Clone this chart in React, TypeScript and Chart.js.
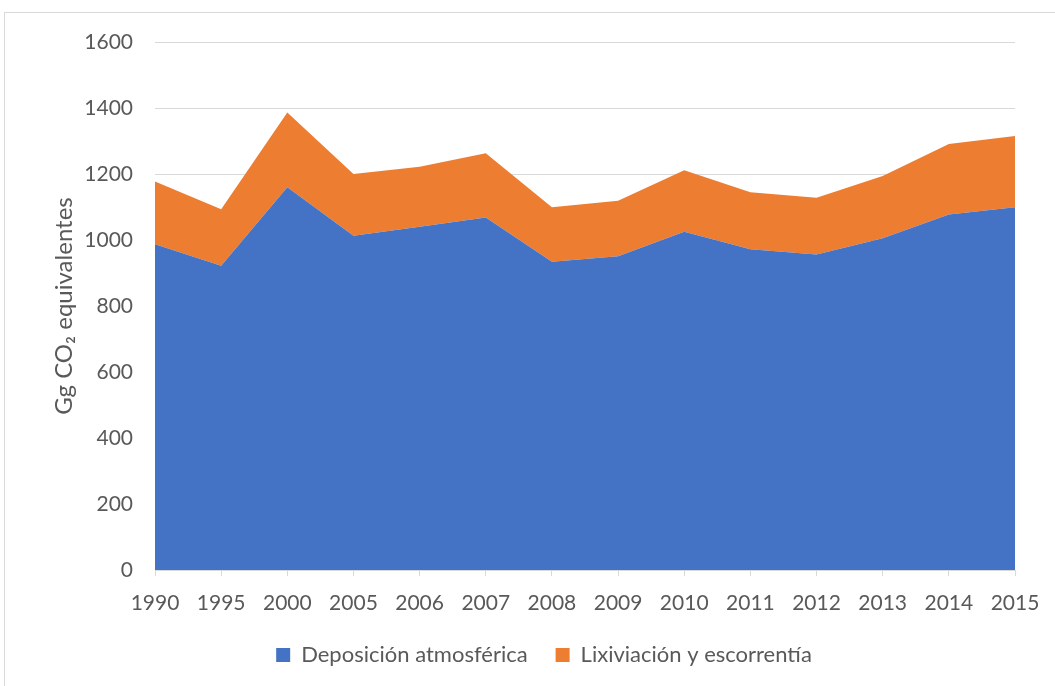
import React, { useEffect, useRef } from "react";
import { Chart, registerables } from "chart.js";

Chart.register(...registerables);

const categories = ["1990", "1995", "2000", "2005", "2006", "2007", "2008", "2009", "2010", "2011", "2012", "2013", "2014", "2015"];
const deposicion = [987, 922, 1160, 1013, 1040, 1068, 934, 951, 1025, 972, 956, 1005, 1077, 1099];
const lixiviacion = [190, 171, 226, 187, 182, 195, 165, 168, 186, 173, 172, 189, 214, 216];
const yTickMin = 0;
const yTickMax = 1600;
const yTickStep = 200;

const FONT = "Lato, 'Open Sans', sans-serif";
const TEXT = "#595959";
const GRID = "#d9d9d9";

export default function App() {
  const ref = useRef<HTMLCanvasElement | null>(null);

  useEffect(() => {
    if (!ref.current) return;
    const chart = new Chart(ref.current, {
      type: "line",
      data: {
        labels: categories,
        datasets: [
          {
            label: "Deposición atmosférica",
            data: deposicion,
            backgroundColor: "#4472C4",
            borderColor: "#4472C4",
            borderWidth: 0,
            pointRadius: 0,
            fill: "origin",
            tension: 0,
          },
          {
            label: "Lixiviación y escorrentía",
            data: lixiviacion,
            backgroundColor: "#ED7D31",
            borderColor: "#ED7D31",
            borderWidth: 0,
            pointRadius: 0,
            fill: "-1",
            tension: 0,
          },
        ],
      },
      options: {
        responsive: false,
        animation: false,
        layout: { padding: { left: 73, right: 40, top: 42, bottom: 44 } },
        plugins: {
          tooltip: { enabled: false },
          legend: {
            position: "bottom",
            labels: {
              boxWidth: 14,
              boxHeight: 14,
              padding: 28,
              color: TEXT,
              font: { family: FONT, size: 22 },
            },
          },
        },
        scales: {
          x: {
            type: "category",
            offset: false,
            stacked: true,
            grid: {
              drawOnChartArea: false,
              drawTicks: true,
              tickLength: 6,
              color: GRID,
            },
            border: { display: true, color: GRID, width: 1 },
            ticks: {
              color: TEXT,
              font: { family: FONT, size: 21 },
              maxRotation: 0,
              autoSkip: false,
              padding: 15,
            },
            afterFit: (scale: any) => {
              scale.height = 46;
            },
          },
          y: {
            stacked: true,
            min: yTickMin,
            max: yTickMax,
            grid: { color: GRID, drawTicks: false, lineWidth: 1 },
            border: { display: false },
            ticks: {
              stepSize: yTickStep,
              color: TEXT,
              font: { family: FONT, size: 21 },
              padding: 22,
              callback: (v: any) => String(v),
            },
            title: {
              display: true,
              text: "Gg CO₂ equivalentes",
              color: TEXT,
              font: { family: FONT, size: 24, weight: "normal" },
              padding: { top: -23, bottom: 0 },
            },
            afterFit: (scale: any) => {
              scale.width = 82;
            },
          },
        },
      },
    });
    return () => chart.destroy();
  }, []);

  return (
    <div
      style={{
        position: "absolute",
        left: 0,
        top: 0,
        width: 1055,
        height: 686,
        overflow: "hidden",
        background: "#ffffff",
      }}
    >
      <div
        style={{
          position: "absolute",
          left: 4,
          top: 12,
          width: 1100,
          height: 720,
          border: "1px solid #d9d9d9",
          boxSizing: "border-box",
        }}
      />
      <canvas
        ref={ref}
        width={1055}
        height={720}
        style={{ position: "absolute", left: 0, top: 0, width: 1055, height: 720 }}
      />
    </div>
  );
}
